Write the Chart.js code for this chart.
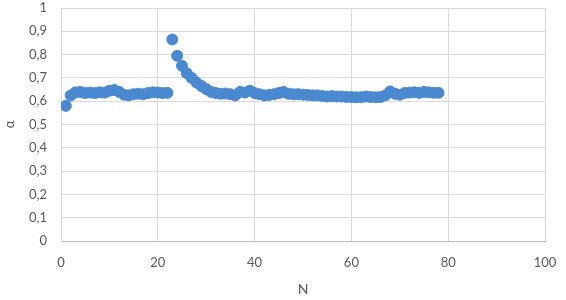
<!DOCTYPE html>
<html>
<head>
<meta charset="utf-8">
<script src="https://cdn.jsdelivr.net/npm/chart.js@4"></script>
<style>
  html, body { margin: 0; padding: 0; background: #fff; }
  #wrap { width: 566px; height: 300px; }
</style>
</head>
<body>
<div id="wrap"><canvas id="chart" width="566" height="300"></canvas></div>
<script>
// valeurs
const nValues = [1,2,3,4,5,6,7,8,9,10,11,12,13,14,15,16,17,18,19,20,21,22,23,24,25,26,27,28,29,30,
  31,32,33,34,35,36,37,38,39,40,41,42,43,44,45,46,47,48,49,50,51,52,53,54,55,56,57,58,59,60,
  61,62,63,64,65,66,67,68,69,70,71,72,73,74,75,76,77,78];
const alphaValues = [0.58,0.625,0.638,0.64,0.635,0.637,0.635,0.638,0.637,0.645,0.648,0.64,0.628,0.625,0.63,
  0.632,0.63,0.635,0.638,0.637,0.635,0.636,0.865,0.795,0.752,0.72,0.70,0.68,0.665,0.652,
  0.64,0.635,0.632,0.633,0.63,0.625,0.64,0.637,0.645,0.635,0.63,0.625,0.627,0.63,0.635,
  0.64,0.632,0.63,0.63,0.628,0.627,0.625,0.625,0.622,0.62,0.622,0.62,0.62,0.618,0.618,
  0.617,0.617,0.62,0.618,0.617,0.618,0.625,0.642,0.632,0.628,0.635,0.637,0.638,0.636,0.64,
  0.638,0.636,0.636];
const xTicks = [0, 20, 40, 60, 80, 100];
const yTicks = [0, 0.1, 0.2, 0.3, 0.4, 0.5, 0.6, 0.7, 0.8, 0.9, 1];

const points = nValues.map((n, i) => ({ x: n, y: alphaValues[i] }));

const fontFamily = 'Lato, "Open Sans", sans-serif';
const textColor = '#595959';

// tailles fixes des axes pour caler la zone de tracé
function fixAxis(size) {
  return axis => {
    if (axis.isHorizontal()) axis.height = size; else axis.width = size;
    axis.paddingTop = 0; axis.paddingBottom = 0;
    axis.paddingLeft = 0; axis.paddingRight = 0;
  };
}

new Chart(document.getElementById('chart').getContext('2d'), {
  type: 'scatter',
  data: {
    datasets: [{
      data: points,
      backgroundColor: '#4a89d0',
      borderColor: '#4a89d0',
      pointRadius: 5.5,
      pointHoverRadius: 5.5,
      showLine: false
    }]
  },
  options: {
    responsive: false,
    animation: false,
    layout: { padding: { left: 0, right: 21, top: 8, bottom: 0 } },
    plugins: { legend: { display: false }, tooltip: { enabled: false } },
    scales: {
      x: {
        type: 'linear',
        min: 0,
        max: 100,
        afterBuildTicks: axis => { axis.ticks = xTicks.map(v => ({ value: v })); },
        afterFit: fixAxis(59),
        ticks: { color: textColor, font: { family: fontFamily, size: 13 }, padding: 14, maxRotation: 0 },
        grid: { color: '#d9d9d9', drawTicks: false },
        border: { color: '#bfbfbf' },
        title: { display: true, text: 'N', color: textColor, font: { family: fontFamily, size: 14 }, padding: { top: 4, bottom: 2 } }
      },
      y: {
        min: 0,
        max: 1,
        afterBuildTicks: axis => { axis.ticks = yTicks.map(v => ({ value: v })); },
        afterFit: fixAxis(61),
        ticks: {
          color: textColor,
          font: { family: fontFamily, size: 13 },
          padding: 14,
          callback: v => String(Math.round(v * 10) / 10).replace('.', ',')
        },
        grid: { color: '#d9d9d9', drawTicks: false },
        border: { color: '#d9d9d9' },
        title: { display: true, text: 'α', color: textColor, font: { family: fontFamily, size: 13 }, padding: { top: 2, bottom: 4 } }
      }
    }
  }
});
</script>
</body>
</html>
